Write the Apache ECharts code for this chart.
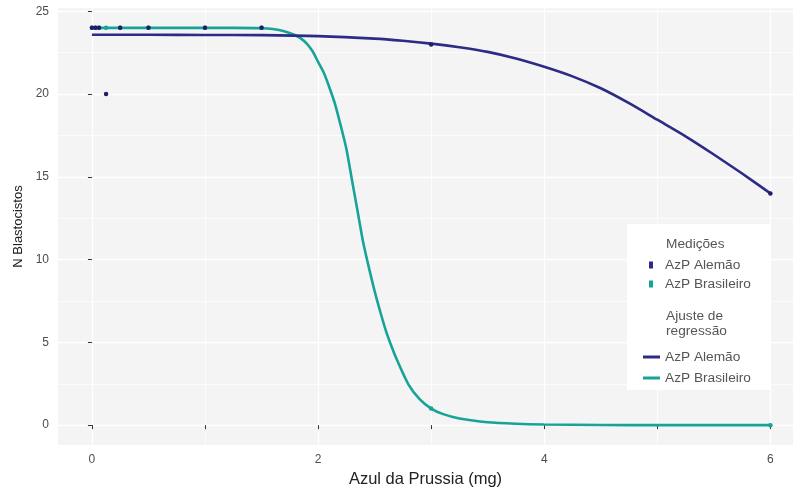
<!DOCTYPE html>
<html>
<head>
<meta charset="utf-8">
<script src="https://cdn.jsdelivr.net/npm/echarts@6/dist/echarts.min.js"></script>
<style>
  html, body { margin: 0; padding: 0; background: #fff; }
  #chart { width: 793px; height: 493px; }
</style>
</head>
<body>
<div id="chart"></div>
<script>
// measured doses (mg) and blastocyst counts
const doses      = [0, 0.03125, 0.0625, 0.125, 0.25, 0.5, 1, 1.5, 3, 6]
const alemaoObs  = [24, 24, 24, 20, 24, 24, 24, 24, 23, 14]
const brasilObs  = [24, 24, 24, 24, 24, 24, 24, 24, 1, 0]

// regression curves
const alemaoFitX = [0, 0.5, 1, 1.5, 2, 2.5, 2.75, 3, 3.25, 3.5, 3.75, 4, 4.25, 4.5, 4.75, 5, 5.25, 5.5, 5.75, 6]
const alemaoFitY = [23.58, 23.58, 23.57, 23.56, 23.5, 23.35, 23.22, 23.05, 22.83, 22.55, 22.15, 21.65, 21.07, 20.35, 19.45, 18.45, 17.45, 16.35, 15.2, 14.0]
const brasilFitX = [0, 0.5, 1, 1.25, 1.5, 1.6, 1.7, 1.8, 1.85, 1.9, 1.95, 2.0, 2.05, 2.1, 2.15, 2.2, 2.25, 2.3, 2.35, 2.4, 2.45, 2.5, 2.55, 2.6, 2.65, 2.7, 2.8, 2.9, 3.0, 3.1, 3.25, 3.5, 3.75, 4, 4.5, 5, 6]
const brasilFitY = [24, 24, 24, 24, 23.98, 23.93, 23.8, 23.55, 23.35, 23.05, 22.6, 21.95, 21.3, 20.4, 19.4, 18.1, 16.7, 14.8, 12.9, 11.0, 9.5, 8.1, 6.85, 5.7, 4.75, 3.9, 2.45, 1.55, 1.0, 0.68, 0.4, 0.17, 0.08, 0.04, 0.01, 0, 0]

const xMajor = [0, 2, 4, 6]
const xMinor = [1, 3, 5]
const yMajor = [0, 5, 10, 15, 20, 25]
const yMinor = [2.5, 7.5, 12.5, 17.5, 22.5]

const NAVY = '#2c2b86'
const TEAL = '#17a398'
const FONT = '"Liberation Sans", Arial, sans-serif'

const zip = (xs, ys) => xs.map((x, i) => [x, ys[i]])

const chart = echarts.init(document.getElementById('chart'), null, { renderer: 'canvas' })

const tickStyle = { show: true, length: 4, lineStyle: { color: '#333', width: 1 } }
const labelStyle = { color: '#4d4d4d', fontSize: 12, fontFamily: FONT }
const legendText = { color: '#555', fontSize: 13.7, fontFamily: FONT, lineHeight: 14 }

chart.setOption({
  animation: false,
  backgroundColor: '#fff',
  grid: {
    left: 58, top: 8, right: 0, bottom: 48,
    show: true, backgroundColor: '#f4f4f4', borderWidth: 0,
  },
  xAxis: [
    {
      type: 'value', min: -0.3, max: 6.2, position: 'bottom',
      name: 'Azul da Prussia (mg)', nameLocation: 'middle', nameGap: 24,
      nameTextStyle: { color: '#222', fontSize: 16.5, fontFamily: FONT },
      axisLine: { show: false },
      axisTick: { ...tickStyle, customValues: xMajor },
      axisLabel: { ...labelStyle, margin: 9, customValues: xMajor },
      splitLine: { show: true, lineStyle: { color: '#fff', width: 1.3 } },
    },
    {
      type: 'value', min: -0.3, max: 6.2, position: 'bottom',
      axisLine: { show: false },
      axisTick: { ...tickStyle, customValues: xMinor },
      axisLabel: { show: false },
      splitLine: { show: true, lineStyle: { color: '#fff', width: 0.7 } },
    },
  ],
  yAxis: [
    {
      type: 'value', min: -1.2, max: 25.2, position: 'left',
      name: 'N Blastocistos', nameLocation: 'middle', nameGap: 31,
      nameTextStyle: { color: '#222', fontSize: 13, fontFamily: FONT },
      axisLine: { show: false },
      axisTick: { ...tickStyle, customValues: yMajor },
      axisLabel: { ...labelStyle, margin: 9, customValues: yMajor },
      splitLine: { show: true, lineStyle: { color: '#fff', width: 1.3 } },
    },
    {
      type: 'value', min: -1.2, max: 25.2, position: 'left',
      axisLine: { show: false },
      axisTick: { show: false, customValues: yMinor },
      axisLabel: { show: false },
      splitLine: { show: true, lineStyle: { color: '#fff', width: 0.7 } },
    },
  ],
  graphic: [
    { type: 'rect', z: 3, shape: { x: 627, y: 224, width: 143, height: 166 }, style: { fill: '#fff' } },
    { type: 'text', z: 5, left: 666, top: 237, style: { text: 'Medições', fill: '#555', font: '13.7px ' + FONT } },
    { type: 'text', z: 5, left: 666, top: 309, style: { text: 'Ajuste de\nregressão', fill: '#555', font: '13.7px ' + FONT, lineHeight: 15 } },
  ],
  legend: [
    {
      orient: 'vertical', left: 644, top: 253, z: 6,
      itemWidth: 18, itemHeight: 7, itemGap: 5,
      textStyle: legendText,
      data: [
        { name: 'AzP Alemão', icon: 'path://M0,0h4v7h-4z', itemStyle: { color: NAVY } },
        { name: 'AzP Brasileiro', icon: 'path://M0,0h4v7h-4z', itemStyle: { color: TEAL } },
      ],
    },
    {
      orient: 'vertical', left: 638, top: 345, z: 6,
      itemWidth: 17, itemHeight: 3, itemGap: 7,
      textStyle: legendText,
      data: [
        { name: 'AzP Alemão', icon: 'rect', itemStyle: { color: NAVY } },
        { name: 'AzP Brasileiro', icon: 'rect', itemStyle: { color: TEAL } },
      ],
    },
  ],
  series: [
    {
      name: 'AzP Brasileiro', type: 'line', z: 2,
      data: zip(brasilFitX, brasilFitY),
      showSymbol: false, smooth: 0.25,
      lineStyle: { color: TEAL, width: 2.6 }, itemStyle: { color: TEAL },
    },
    {
      name: 'AzP Alemão', type: 'line', z: 2,
      data: zip(alemaoFitX, alemaoFitY),
      showSymbol: false, smooth: 0.25,
      lineStyle: { color: NAVY, width: 2.6 }, itemStyle: { color: NAVY },
    },
    {
      name: 'AzP Brasileiro', type: 'scatter', z: 3,
      data: zip(doses, brasilObs),
      symbolSize: 4.5, itemStyle: { color: TEAL, opacity: 1 },
    },
    {
      name: 'AzP Alemão', type: 'scatter', z: 4,
      data: zip(doses, alemaoObs),
      symbolSize: 4.5, itemStyle: { color: '#1f1e6a', opacity: 1 },
    },
  ],
})
</script>
</body>
</html>
